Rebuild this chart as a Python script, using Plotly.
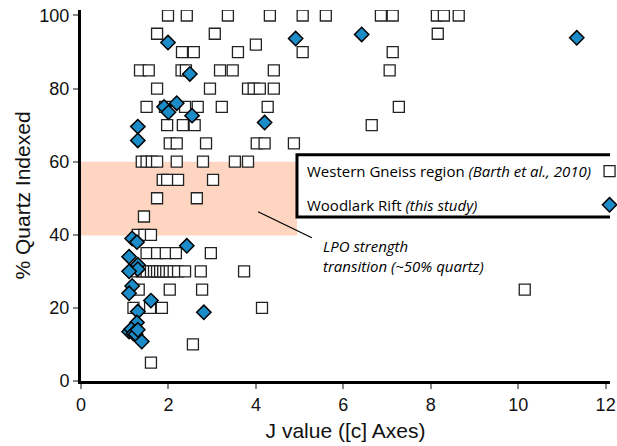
import plotly.graph_objects as go

# Western Gneiss region (Barth et al., 2010) -- J value, % quartz indexed
wg_j = [1.99, 2.42, 3.36, 4.32, 5.07, 5.6, 6.86, 7.13, 8.14, 8.3, 8.64,
        1.74, 3.06, 8.16,
        4.0,
        2.31, 2.58, 3.59, 5.07, 7.13,
        1.35, 1.55, 2.3, 2.4, 3.18, 3.47, 4.41, 7.06,
        1.74, 2.95, 3.82, 3.95, 4.09, 4.41,
        1.5, 1.92, 2.38, 2.67, 3.22, 4.27, 7.27,
        1.97, 2.33, 2.6, 6.65,
        2.03, 2.19, 2.86, 4.02, 4.2, 4.87,
        1.39, 1.5, 1.62, 1.74, 2.19, 2.79, 3.52, 3.82,
        1.87, 1.97, 2.22, 3.02,
        1.74, 2.65,
        1.44,
        1.3, 1.45, 1.6,
        1.5, 1.74, 1.94, 2.17, 2.97,
        1.28, 1.39, 1.5, 1.6, 1.67, 1.74, 1.81, 1.88, 1.95, 2.03, 2.12, 2.22, 2.38, 2.74, 3.73,
        1.32, 2.03, 2.77, 10.15,
        1.2, 1.58, 1.85, 4.14,
        2.56,
        1.6]
wg_q = [100] * 11 + [95] * 3 + [92] + [90] * 5 + [85] * 8 + [80] * 6 + [75] * 7 + \
       [70] * 4 + [65] * 6 + [60] * 8 + [55] * 4 + [50] * 2 + [45] + [40] * 3 + \
       [35] * 5 + [30] * 15 + [25] * 4 + [20] * 4 + [10] + [5]

# Woodlark Rift (this study)
wr_j = [1.99, 4.91, 6.42, 11.34, 2.49, 1.9, 2.0, 2.19, 2.54, 4.2, 1.3, 1.3,
        1.17, 1.28, 2.42, 1.1, 1.3, 1.3, 1.1, 1.17, 1.1, 1.6, 1.3, 2.81, 1.28,
        1.1, 1.15, 1.2, 1.25, 1.3, 1.39]
wr_q = [92.6, 93.7, 94.8, 93.9, 84, 75, 73.5, 76, 72.6, 70.7, 69.6, 65.8,
        39, 38, 37, 34, 31.8, 30.6, 30, 26, 24, 22, 19, 18.8, 16,
        13.5, 14.2, 13, 12.8, 14, 10.8]

x_ticks = [0, 2, 4, 6, 8, 10, 12]
y_ticks = [0, 20, 40, 60, 80, 100]

FONT = "Liberation Sans, Arial, sans-serif"
LFONT = "Open Sans, Lato, sans-serif"
BLUE = "#1b8cc7"
SQ = dict(symbol="square", size=11, color="white", line=dict(color="#222222", width=1.3))
DM = dict(symbol="diamond", size=11, color=BLUE, line=dict(color="black", width=1.5))

fig = go.Figure()

# shaded transition band
fig.add_shape(type="rect", x0=0, x1=4.94, y0=39.8, y1=60, xref="x", yref="y",
              fillcolor="rgb(253,213,192)", line_width=0, layer="below")
# custom legend box
fig.add_shape(type="rect", x0=4.94, x1=12.6, y0=44.9, y1=61.9, xref="x", yref="y",
              fillcolor="white", line=dict(color="black", width=3), layer="below")

fig.add_trace(go.Scatter(x=wg_j, y=wg_q, mode="markers", showlegend=False, marker=SQ))
fig.add_trace(go.Scatter(x=wr_j, y=wr_q, mode="markers", showlegend=False, marker=DM))

fig.add_annotation(x=5.13, y=57.4, xref="x", yref="y", xanchor="left", yanchor="middle",
                   showarrow=False,
                   text="Western Gneiss region <i>(Barth et al., 2010)</i>",
                   font=dict(family=LFONT, size=15, color="black"))
fig.add_annotation(x=5.13, y=48.2, xref="x", yref="y", xanchor="left", yanchor="middle",
                   showarrow=False,
                   text="Woodlark Rift <i>(this study)</i>",
                   font=dict(family=LFONT, size=15, color="black"))
fig.add_trace(go.Scatter(x=[12.09], y=[57.4], mode="markers", showlegend=False,
                         cliponaxis=False, marker=SQ))
fig.add_trace(go.Scatter(x=[12.09], y=[48.2], mode="markers", showlegend=False,
                         cliponaxis=False, marker=DM))

# annotation with pointer line
fig.add_shape(type="line", x0=4.05, y0=46.3, x1=5.28, y1=39.2, xref="x", yref="y",
              line=dict(color="black", width=1.3))
fig.add_annotation(x=5.5, y=34.1, xref="x", yref="y", xanchor="left", yanchor="middle",
                   showarrow=False, align="left",
                   text="<i>LPO strength</i><br><i>transition (~50% quartz)</i>",
                   font=dict(family=LFONT, size=15, color="black"))

fig.update_layout(
    width=617, height=446,
    margin=dict(l=81, r=7, t=10, b=65),
    paper_bgcolor="white", plot_bgcolor="white",
    font=dict(family=FONT, size=18, color="#111111"),
)
fig.update_xaxes(range=[0, 12.1], tickvals=x_ticks, showgrid=False, zeroline=False,
                 showline=True, linecolor="black", linewidth=3, automargin=False,
                 ticks="outside", ticklen=5, tickcolor="#888888", tickwidth=2,
                 tickfont=dict(size=18),
                 title=dict(text="J value ([c] Axes)", font=dict(size=21), standoff=10))
fig.update_yaxes(range=[0, 101.5], tickvals=y_ticks, showgrid=False, zeroline=False,
                 showline=True, linecolor="black", linewidth=3, automargin=False,
                 ticks="outside", ticklen=5, tickcolor="#888888", tickwidth=2,
                 tickfont=dict(size=18),
                 title=dict(text="% Quartz Indexed", font=dict(size=21), standoff=4))

fig.write_html("out.html", config={"displayModeBar": False},
               post_script="document.body.style.margin='0';document.body.style.overflow='hidden';")
